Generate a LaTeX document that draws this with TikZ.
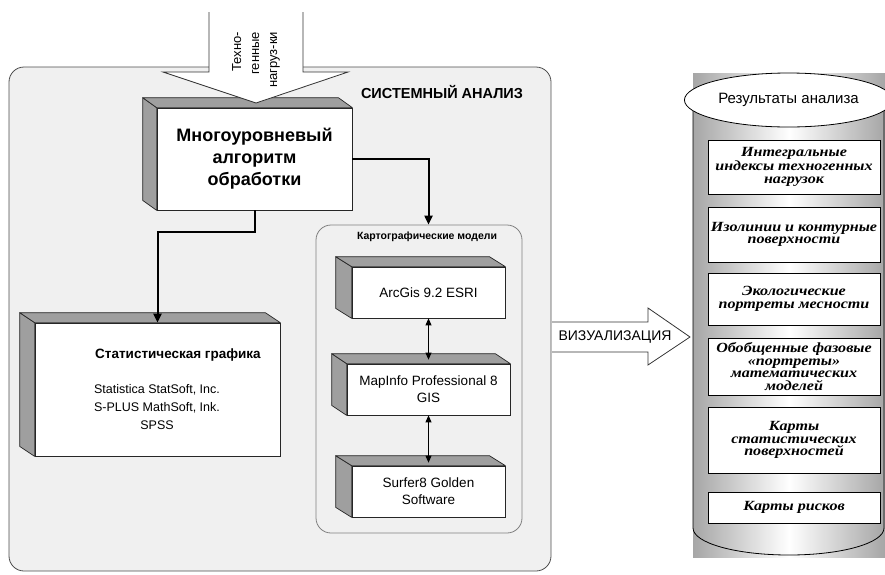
\documentclass[tikz,border=0pt]{standalone}
\usepackage{fontspec}
\setmainfont{Liberation Sans}
\newfontfamily\rfont[FakeStretch=1.15]{Liberation Serif}
\usetikzlibrary{arrows.meta,shapes.geometric}

\begin{document}
\begin{tikzpicture}[x=1pt,y=-1pt]
\useasboundingbox (0,0) rectangle (885,574);

\tikzstyle{front} = [draw=black!85, line width=0.7pt, fill=white, shape=rectangle, inner sep=2pt, align=center]
\tikzstyle{face} = [draw=black!85, line width=0.7pt, fill=gray!75, line join=round]
\tikzstyle{res} = [draw=black, line width=0.8pt, fill=white, shape=rectangle, minimum width=172pt, inner sep=1pt, align=center, font=\rfont\bfseries\itshape\fontsize{14}{12.5}\selectfont]
\tikzstyle{flow} = [line width=2pt, -{Triangle[length=9pt,width=8pt]}]
\tikzstyle{link} = [line width=0.8pt, {Triangle[length=7pt,width=6pt]}-{Triangle[length=7pt,width=6pt]}]
\tikzstyle{soft} = [font=\fontsize{13.5}{17}\selectfont]

% system analysis panel
\draw[fill=black!6, draw=black!70, line width=0.8pt, rounded corners=15pt] (9,67) rectangle (551,571);
\node at (442,92)[font=\bfseries\fontsize{14.5}{17}\selectfont](sysan){СИСТЕМНЫЙ АНАЛИЗ};

\node at (419,379)[draw=black!50, line width=0.8pt, rounded corners=15pt, minimum width=206pt, minimum height=308pt](kart){};
\node at (427,237)[font=\bfseries\fontsize{10.5}{12}\selectfont](karttitle){Картографические модели};

\node at (254.5,159)[front, minimum width=195pt, minimum height=102pt, font=\bfseries\fontsize{18}{22}\selectfont](algo){Многоуровневый\\алгоритм\\обработки};

\node at (157.5,389.5)[front, minimum width=245pt, minimum height=133pt](stat){};
\node at (178,355)[font=\bfseries\fontsize{13.5}{16}\selectfont](stattitle){Статистическая графика};
\node at (157,407)[align=center, font=\fontsize{12.5}{18}\selectfont](statsoft){Statistica StatSoft, Inc.\\S-PLUS MathSoft, Ink.\\SPSS};

\node at (428.5,292.5)[front, soft, minimum width=153pt, minimum height=51pt](arc){ArcGis 9.2 ESRI};
\node at (428.5,389.5)[front, soft, minimum width=163pt, minimum height=51pt](map){MapInfo Professional 8\\GIS};
\node at (428.5,491.5)[front, soft, minimum width=153pt, minimum height=51pt](surf){Surfer8 Golden\\Software};

\foreach \n/\d in {algo/14, stat/15, arc/16, map/15, surf/16}{
  \draw[face] (\n.north west) -- ++(-\d,-10) -- ([shift={(-\d,-10)}]\n.south west) -- (\n.south west) -- cycle;
  \draw[face] (\n.north west) -- ++(-\d,-10) -- ([shift={(-\d,-10)}]\n.north east) -- (\n.north east) -- cycle;
}

% loads arrow
\draw[fill=white, draw=black!80, line width=0.8pt] (209,12) -- (209,72) -- (163,72) -- (256,103) -- (348,72) -- (303,72) -- (303,12);
\node at (256,60)[rotate=90, align=right, font=\fontsize{13}{18}\selectfont](techno){Техно-\\генные\\нагруз-ки};

\draw[flow] (algo.south) -- ++(0,22) -| (stat.north);
\draw[flow] (algo.east) -| (arc.center |- kart.north);
\draw[link] (arc.south) -- ([yshift=4pt]map.north);
\draw[link] (map.south) -- ([yshift=3pt]surf.north);

% visualisation arrow
\draw[fill=white, draw=black!80, line width=0.8pt] (552,322) -- (648,322) -- (648,308) -- (690,337) -- (648,365) -- (648,352) -- (552,352);
\node at (615,337)[font=\fontsize{14}{16}\selectfont](vis){ВИЗУАЛИЗАЦИЯ};

% results cylinder
\shade[left color=gray!70, right color=gray!70, middle color=white] (693,73) rectangle (885,557);
\draw[line width=0.8pt] (693,100) -- (693,528) .. controls (693,543) and (736,555) .. (789,555) .. controls (842,555) and (884,543) .. (884,528) -- (884,100);
\node at (788.5,100)[draw, line width=0.8pt, ellipse, fill=white, minimum width=191pt, minimum height=54pt, font=\fontsize{15}{17}\selectfont](results){Результаты анализа};

\node at (794,167)[res, minimum height=54pt](r1){Интегральные\\индексы техногенных\\нагрузок};
\node at (794,234.5)[res, minimum height=55pt](r2){Изолинии и контурные\\поверхности};
\node at (794,299)[res, minimum height=52pt](r3){Экологические\\портреты месности};
\node at (794,366.5)[res, minimum height=57pt](r4){Обобщенные фазовые\\«портреты»\\математических\\моделей};
\node at (794,440)[res, minimum height=66pt](r5){Карты\\статистических\\поверхностей};
\node at (794,507.5)[res, minimum height=31pt](r6){Карты рисков};

\end{tikzpicture}
\end{document}
